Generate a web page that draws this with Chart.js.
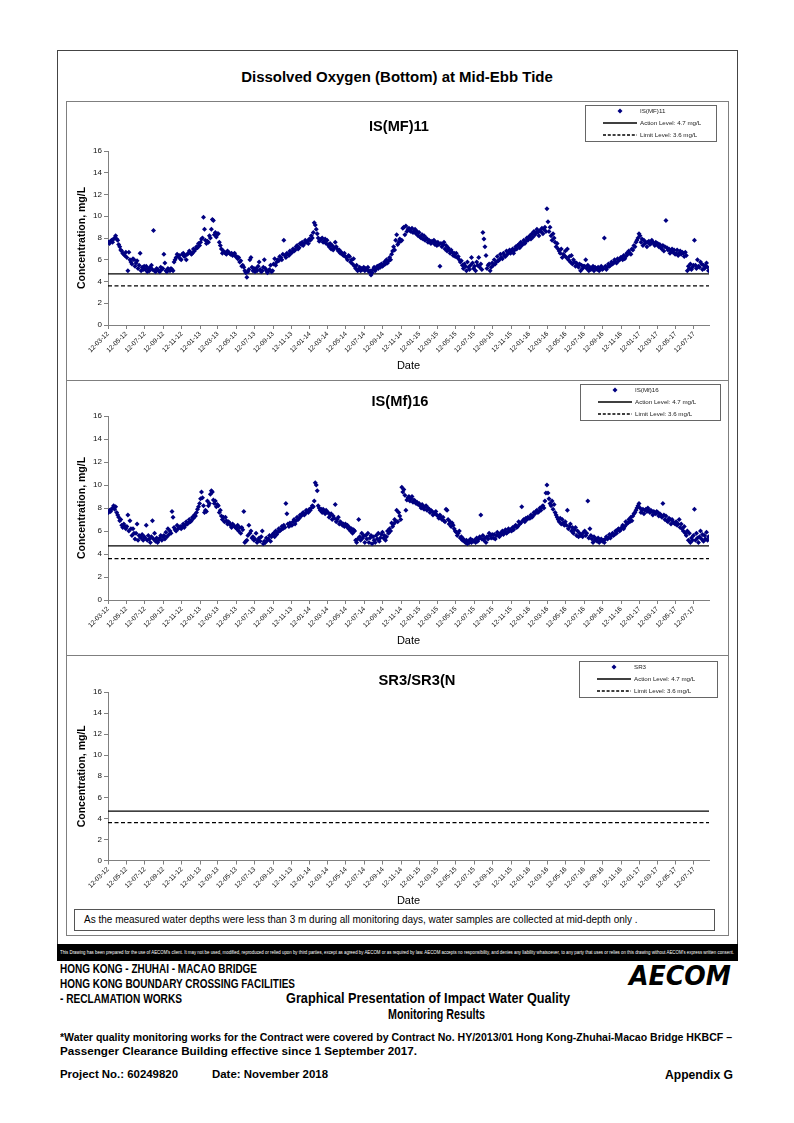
<!DOCTYPE html>
<html><head><meta charset="utf-8">
<script src="https://cdn.jsdelivr.net/npm/chart.js@4.4.0/dist/chart.umd.min.js"></script>
<style>
body{margin:0;background:#fff;}
#page{position:relative;width:794px;height:1123px;overflow:hidden;font-family:"Liberation Sans",Arial,sans-serif;color:#000;}
.abs{position:absolute;white-space:nowrap;line-height:1;}
.box{position:absolute;border:1px solid #7f7f7f;box-sizing:border-box;}
canvas{position:absolute;}
.legend{position:absolute;border:1px solid #666;background:#fff;box-sizing:border-box;}
.legend span{position:absolute;font-size:6.2px;line-height:1;color:#222;white-space:nowrap;}
.legend svg{position:absolute;}
</style>
</head><body>
<div id="page">
  <div class="box" style="left:57px;top:50px;width:681px;height:895px;border-color:#444;"></div>
  <div class="box" style="left:66px;top:101px;width:663px;height:280px;"></div>
  <div class="box" style="left:66px;top:380px;width:663px;height:276px;"></div>
  <div class="box" style="left:66px;top:655px;width:663px;height:281px;"></div>
  <div class="box" style="left:74px;top:909px;width:641px;height:22px;border-color:#555;"></div>
  <canvas id="c1" width="660" height="277" style="left:67px;top:102px;"></canvas>
  <canvas id="c2" width="660" height="273" style="left:67px;top:381px;"></canvas>
  <canvas id="c3" width="660" height="252" style="left:67px;top:656px;"></canvas>
  <div style="position:absolute;left:57px;top:944px;width:681px;height:17px;background:#000;"></div>
</div>
<script>
// ---------------- data ----------------
const tickLabels = ['12-03-12','12-05-12','12-07-12','12-09-12','12-11-12','12-01-13','12-03-13','12-05-13','12-07-13','12-09-13','12-11-13','12-01-14','12-03-14','12-05-14','12-07-14','12-09-14','12-11-14','12-01-15','12-03-15','12-05-15','12-07-15','12-09-15','12-11-15','12-01-16','12-03-16','12-05-16','12-07-16','12-09-16','12-11-16','12-01-17','12-03-17','12-05-17','12-07-17'];
const axisEndLabel = '31-08-17';
const yTicks = [0,2,4,6,8,10,12,14,16];
const actionLevel = 4.7;
const limitLevel = 3.6;

// readings grouped by two-month period (period k starts at tickLabels[k])
const isMF11 = [
 [7.6,7.5,7.7,7.8,7.6,7.9,8.0,8.2,7.9,7.8,7.4,7.2,6.9,6.8,6.6,6.5,6.4,6.7],
 [6.2,5.0,6.7,6.0,5.8,5.6,6.1,6.0,5.4,5.7,5.9,5.2,5.5,6.6,5.0,5.3,5.1,5.4],
 [5.1,5.4,4.9,5.2,5.0,5.3,5.5,5.1,8.7,5.0,4.9,5.2,5.1,5.0,4.9,5.3,5.1,5.2],
 [6.5,5.7,5.0,4.9,5.2,5.1,5.0,5.2,5.1,5.0,5.8,6.0,6.2,6.5,6.3,6.4,6.1,6.0],
 [6.5,6.6,6.3,6.4,6.0,6.5,6.6,6.8,6.7,6.5,6.6,7.0,6.8,7.0,7.2,7.1,7.5,7.3],
 [7.6,7.9,8.0,9.9,8.8,7.8,7.5,7.7,7.6,8.2,8.0,8.8,9.7,9.6,8.3,8.5,8.1,8.4],
 [8.4,7.6,7.3,7.0,6.6,6.8,6.7,6.6,6.5,6.8,6.7,6.6,6.5,6.6,6.4,6.5,6.6,6.3],
 [6.3,6.1,6.2,5.8,5.9,5.4,5.5,5.3,5.0,4.8,4.4,4.9,5.1,6.0,6.2,5.3,5.0,5.2],
 [4.9,5.2,5.0,5.4,5.8,5.1,4.9,5.0,5.3,6.0,5.2,5.0,4.8,5.0,5.1,5.5,4.9,5.0],
 [5.6,6.1,5.5,5.8,6.0,5.9,6.3,6.2,6.0,6.5,7.8,6.4,6.2,6.6,6.5,6.4,6.8,6.6],
 [6.7,7.0,6.8,6.9,7.2,7.3,7.0,7.1,7.5,7.4,7.6,7.3,7.5,7.8,7.6,7.7,7.5,7.9],
 [7.8,8.2,8.0,8.5,9.4,9.2,8.8,8.4,8.0,7.7,7.8,7.9,8.0,7.6,7.7,7.9,7.5,7.8],
 [7.4,7.2,7.5,7.0,7.3,6.9,7.1,7.6,7.2,7.0,6.8,6.9,6.6,6.7,6.5,6.4,6.6,6.3],
 [6.2,6.0,6.4,6.3,5.8,6.0,5.6,6.1,5.4,5.2,5.5,5.0,5.1,5.3,5.0,5.2,5.1,5.3],
 [5.0,5.2,5.1,5.3,4.9,5.0,4.6,4.8,5.1,5.3,5.0,5.2,5.4,5.2,5.5,5.3,5.6,5.4],
 [5.5,5.8,5.6,6.0,5.7,5.9,6.2,6.0,6.5,6.8,7.2,6.9,7.8,8.3,7.4,7.6,7.9,7.7],
 [7.8,8.9,9.0,8.3,9.1,8.6,8.8,8.9,8.7,8.6,8.9,8.5,8.6,8.8,8.4,8.6,8.2,8.5],
 [8.1,8.0,8.3,7.9,8.2,7.8,8.0,7.9,7.6,7.8,7.7,7.5,7.7,7.6,7.8,7.4,7.6,7.3],
 [7.6,7.4,5.4,7.5,7.2,7.4,7.6,7.0,7.3,6.8,7.1,6.9,6.6,6.9,6.7,6.4,6.6,6.3],
 [6.6,6.2,6.3,6.0,5.8,5.9,5.5,5.2,5.6,5.4,5.0,5.8,5.3,5.1,5.5,6.2,5.7,5.2],
 [5.4,5.0,5.8,5.5,6.2,5.3,5.6,5.1,8.5,7.9,7.2,6.4,5.2,5.5,5.6,5.0,5.3,5.7],
 [5.5,6.0,5.6,5.8,6.3,5.9,6.0,6.5,6.2,6.1,6.6,6.4,6.3,6.8,6.5,6.7,6.9,6.6],
 [6.8,7.0,6.6,6.9,7.2,7.0,7.3,7.4,7.1,7.6,7.3,7.5,7.8,7.5,7.7,8.0,7.8,8.1],
 [8.2,7.9,8.4,8.1,8.6,8.3,8.5,8.8,8.5,8.2,8.7,8.6,8.9,8.4,8.8,9.0,8.6,10.7],
 [9.5,8.6,9.0,8.2,7.8,8.4,8.0,7.6,7.2,7.5,7.0,6.8,6.6,7.0,6.2,6.5,6.4,6.8],
 [6.2,7.0,6.0,6.3,5.8,6.4,5.6,6.0,5.8,5.4,5.7,5.5,5.3,5.6,5.0,5.5,5.2,5.4],
 [5.4,6.0,5.2,5.5,5.0,5.3,5.1,5.2,5.4,5.0,5.3,5.2,5.1,5.3,5.0,5.2,5.4,5.1],
 [5.2,8.0,5.4,5.1,5.3,5.6,5.4,5.5,5.8,5.6,5.7,6.0,5.8,5.7,6.1,5.9,6.0,6.2],
 [6.2,6.0,6.4,6.1,6.3,6.6,6.5,6.8,6.6,6.5,7.0,6.9,7.3,7.2,7.6,7.8,8.0,8.4],
 [8.2,7.6,7.9,7.3,7.8,7.5,7.6,7.2,7.6,7.7,7.4,7.5,7.8,7.6,7.5,7.3,7.6,7.4],
 [7.5,7.2,7.4,7.1,7.0,7.3,6.8,7.2,9.6,7.1,6.9,7.0,6.6,6.8,7.0,6.7,6.9,6.5],
 [6.6,6.9,6.4,6.6,6.8,6.5,6.7,6.6,6.3,6.7,6.4,5.0,5.4,5.2,5.6,5.1,5.3,5.5],
 [7.8,5.5,5.2,6.0,5.4,5.3,5.8,5.6,5.1,5.5,5.2,5.4,5.7,5.3,5.0]
];
const isMf16 = [
 [7.6,7.8,7.7,7.9,8.0,8.2,7.9,8.1,7.6,7.4,7.2,6.9,7.0,6.5,6.3,6.6,6.4,6.2],
 [6.4,7.4,6.0,6.9,6.2,5.6,6.2,5.8,5.3,5.8,6.6,5.2,5.6,5.5,5.4,5.7,5.2,5.5],
 [5.4,6.5,5.2,5.6,5.3,5.0,5.5,6.9,5.3,5.8,5.1,5.4,5.0,5.2,5.4,5.6,5.2,5.5],
 [5.6,5.3,5.9,5.5,6.2,5.7,6.0,5.8,7.7,7.2,6.3,6.1,6.0,6.5,6.2,6.3,6.4,6.2],
 [6.4,6.6,6.3,6.5,6.8,6.6,6.7,7.0,6.8,6.9,7.2,7.1,7.4,7.3,7.6,7.9,8.1,8.4],
 [8.8,9.4,8.9,8.2,7.6,7.8,7.7,8.6,8.2,8.4,9.2,9.5,9.4,8.7,8.4,8.6,8.1,8.3],
 [8.2,7.6,7.8,7.3,7.0,7.2,6.8,7.2,6.9,6.6,6.8,6.7,6.5,6.3,6.6,6.5,6.4,6.3],
 [6.2,6.5,6.0,6.3,5.8,6.3,6.1,7.7,5.0,5.1,5.2,5.6,6.5,5.8,6.0,5.4,5.5,5.2],
 [5.3,5.8,5.0,5.2,5.4,5.1,5.5,6.0,4.9,5.1,5.0,5.4,5.2,5.3,5.6,5.1,5.5,5.7],
 [5.8,5.5,6.0,5.7,5.9,6.2,6.0,6.1,6.4,6.2,6.5,6.3,8.4,7.5,6.6,6.4,6.7,6.5],
 [6.5,6.8,7.0,6.6,6.9,7.2,7.0,7.1,7.4,7.3,7.5,7.6,7.4,7.5,7.8,7.7,7.6,7.9],
 [7.8,8.0,8.2,8.1,8.6,10.2,10.0,9.5,8.2,8.0,7.8,7.9,7.6,7.9,7.7,7.5,7.8,7.6],
 [7.6,7.2,7.4,7.5,7.0,7.3,7.1,8.3,6.8,7.0,7.2,6.6,6.8,6.7,6.5,6.6,6.4,6.6],
 [6.4,6.5,6.2,6.3,6.0,6.2,5.8,6.1,6.0,5.2,5.0,5.3,7.0,5.5,5.2,5.8,5.4,5.6],
 [5.0,5.6,5.3,5.8,5.0,5.4,5.6,4.9,5.5,5.2,5.0,5.6,5.3,5.8,5.1,5.4,5.7,5.9],
 [5.4,5.6,5.2,5.5,6.0,5.8,6.2,6.0,6.7,6.4,6.6,7.0,6.8,7.8,6.8,7.6,7.3,7.0],
 [9.8,9.4,9.6,9.1,7.8,8.7,8.9,9.0,8.6,8.8,9.0,8.5,8.7,8.6,8.4,8.5,8.3,8.4],
 [8.2,8.0,8.3,8.1,7.9,8.1,8.2,7.8,8.0,7.9,7.6,7.8,7.7,7.4,7.6,7.5,7.7,7.4],
 [7.3,7.1,7.4,7.2,7.0,7.2,6.9,6.8,7.9,7.8,7.0,6.6,6.8,6.4,6.7,6.5,6.2,6.0],
 [5.9,5.6,5.8,6.0,5.4,5.5,5.2,5.3,5.1,5.0,5.2,4.9,5.1,5.0,5.3,5.0,5.2,5.1],
 [5.2,5.0,5.4,5.1,5.3,5.5,7.4,5.3,5.6,5.2,5.4,5.0,5.5,5.3,5.8,5.6,5.4,5.7],
 [5.4,5.7,5.3,5.6,5.9,5.6,5.5,5.8,5.7,6.0,5.7,5.9,6.1,5.8,5.9,6.2,6.0,6.1],
 [6.0,6.3,6.1,6.4,6.5,6.3,6.4,6.8,6.6,6.7,8.1,6.9,7.0,6.8,7.1,7.0,7.2,7.1],
 [7.1,7.4,7.2,7.3,7.6,7.5,7.7,7.8,7.6,7.7,8.0,7.8,8.1,8.2,8.0,8.6,9.3,10.0],
 [9.3,8.8,8.4,8.2,8.6,7.9,8.3,7.6,7.4,7.2,7.0,6.8,7.1,6.6,7.0,6.7,6.5,6.8],
 [6.5,7.8,6.2,6.4,6.6,6.0,6.3,5.8,6.1,6.3,5.6,6.0,5.5,5.8,5.6,5.7,5.5,5.9],
 [6.0,5.6,5.8,8.6,5.4,6.2,5.6,5.3,5.0,5.5,5.2,5.3,5.1,5.4,5.0,5.2,5.3,5.1],
 [5.2,5.0,5.3,5.5,5.3,5.4,5.7,5.4,5.6,5.8,5.6,5.7,6.0,5.8,6.1,6.2,6.0,6.1],
 [6.3,6.5,6.2,6.4,6.8,6.6,6.7,7.0,6.8,7.2,6.9,7.3,7.5,7.6,7.8,8.0,8.2,8.4],
 [8.0,7.6,7.8,7.9,7.5,7.8,7.9,7.7,8.0,7.8,7.6,7.8,7.7,7.4,7.7,7.6,7.5,7.7],
 [7.6,7.3,7.5,7.4,7.2,8.4,7.4,7.0,7.3,6.9,6.8,7.1,7.0,6.6,7.0,6.8,6.7,6.6],
 [6.8,6.5,6.6,7.0,6.3,6.6,6.2,6.0,6.4,5.8,5.6,6.0,5.2,5.8,5.0,5.4,5.2,5.6],
 [7.9,5.2,5.8,5.4,5.0,5.5,6.0,5.3,5.7,5.1,5.6,5.3,5.9,5.2,5.5]
];
const sr3 = [];

// ---------------- helpers ----------------
const FONT = '"Liberation Sans", Arial, sans-serif';
const T0 = Date.UTC(2012, 2, 12);
function dayOf(s){ const p = s.split('-').map(Number); return (Date.UTC(2000 + p[2], p[1] - 1, p[0]) - T0) / 864e5; }
const tickDays = tickLabels.map(dayOf);
const endDay = dayOf(axisEndLabel);

function seriesPoints(periods){
  const pts = [];
  periods.forEach((vals, k) => {
    const a = tickDays[k], b = (k + 1 < tickDays.length) ? tickDays[k + 1] : endDay;
    vals.forEach((v, j) => pts.push({x: a + (j + 0.5) * (b - a) / vals.length, y: v}));
  });
  return pts;
}

function fitArea(chart, t){
  for (let i = 0; i < 5; i++){
    const a = chart.chartArea, p = chart.options.layout.padding;
    p.left = Math.max(0, p.left + (t.left - a.left));
    p.top = Math.max(0, p.top + (t.top - a.top));
    p.right = Math.max(0, p.right + (a.right - t.right));
    p.bottom = Math.max(0, p.bottom + (a.bottom - t.bottom));
    chart.update('none');
  }
}

const axisGrid = {drawOnChartArea:false, drawTicks:true, tickLength:4, color:'#808080', tickColor:'#808080'};
const axisBorder = {color:'#808080', width:1};

function makeChart(id, label, periods, target){
  const chart = new Chart(document.getElementById(id), {
    type: 'scatter',
    data: {datasets: [
      {label: label, data: seriesPoints(periods), pointStyle:'rectRot', pointRadius:2.5, pointHoverRadius:2.5,
       backgroundColor:'#000080', borderColor:'#000080', borderWidth:0, order:0},
      {type:'line', label:'Action Level: 4.7 mg/L', data:[{x:0,y:actionLevel},{x:endDay,y:actionLevel}],
       borderColor:'#000', borderWidth:1.3, pointRadius:0, order:1},
      {type:'line', label:'Limit Level: 3.6 mg/L', data:[{x:0,y:limitLevel},{x:endDay,y:limitLevel}],
       borderColor:'#000', borderWidth:1.3, borderDash:[4,2.5], pointRadius:0, order:2}
    ]},
    options: {
      responsive:false, animation:false, events:[],
      layout:{padding:{left:4, top:30, right:18, bottom:0}},
      plugins:{legend:{display:false}, tooltip:{enabled:false}, title:{display:false}},
      scales:{
        x:{type:'linear', min:0, max:endDay,
           afterBuildTicks: s => { s.ticks = tickDays.map(v => ({value:v})); },
           ticks:{autoSkip:false, minRotation:45, maxRotation:45, padding:1,
                  font:{size:6.6, family:FONT}, color:'#111', callback:(v, i) => tickLabels[i]},
           grid:axisGrid, border:axisBorder,
           title:{display:true, text:'Date', font:{size:11, family:FONT}, color:'#000', padding:{top:4, bottom:0}}},
        y:{type:'linear', min:0, max:16,
           afterBuildTicks: s => { s.ticks = yTicks.map(v => ({value:v})); },
           ticks:{font:{size:8, family:FONT}, color:'#111', padding:2},
           grid:axisGrid, border:axisBorder,
           title:{display:true, text:'Concentration, mg/L', font:{size:10.5, weight:'bold', family:FONT}, color:'#000', padding:{top:0, bottom:3}}}
      }
    }
  });
  fitArea(chart, target);
  return chart;
}

makeChart('c1', 'IS(MF)11', isMF11, {left:41, top:49, right:642, bottom:223});
makeChart('c2', 'IS(Mf)16', isMf16, {left:41, top:35, right:642, bottom:219});
makeChart('c3', 'SR3', sr3, {left:41, top:36, right:642, bottom:205});

// ---------------- text ----------------
const page = document.getElementById('page');
function place(text, o){
  const el = document.createElement('div');
  el.className = 'abs';
  el.textContent = text;
  el.style.fontSize = o.size + 'px';
  el.style.fontWeight = o.weight || 'normal';
  if (o.family) el.style.fontFamily = o.family;
  if (o.style) el.style.fontStyle = o.style;
  el.style.color = o.color || '#000';
  page.appendChild(el);
  let w = el.getBoundingClientRect().width;
  if (o.w && o.condense){
    el.style.transformOrigin = 'left top';
    el.style.transform = 'scaleX(' + (o.w / w) + ')';
    w = o.w;
  } else if (o.w){
    el.style.fontSize = (o.size * o.w / w) + 'px';
    w = el.getBoundingClientRect().width;
  }
  const fs = parseFloat(el.style.fontSize);
  let left = o.x;
  if (o.align === 'center') left = o.x - w / 2;
  if (o.align === 'right') left = o.x - w;
  el.style.left = left + 'px';
  el.style.top = (o.y - 0.5 * fs) + 'px';
  return el;
}

place('Dissolved Oxygen (Bottom) at Mid-Ebb Tide', {x:397, y:76, size:14, weight:'bold', align:'center', w:312});
place('IS(MF)11', {x:399, y:126, size:14, weight:'bold', align:'center', w:60});
place('IS(Mf)16', {x:400, y:401, size:14, weight:'bold', align:'center', w:57});
place('SR3/SR3(N', {x:417, y:680, size:14, weight:'bold', align:'center', w:77});
place('As the measured water depths were less than 3 m during all monitoring days, water samples are collected  at mid-depth only .', {x:84, y:920, size:9.5, w:554});

place("This Drawing has been prepared for the use of AECOM's client. It may not be used, modified, reproduced or relied upon by third parties, except as agreed by AECOM or as required by law. AECOM accepts no responsibility, and denies any liability whatsoever, to any party that uses or relies on this drawing without AECOM's express written consent.", {x:60, y:952.5, size:5.2, color:'#fff', w:674, condense:true});

place('HONG KONG - ZHUHAI - MACAO BRIDGE', {x:60, y:969, size:12.2, weight:'bold', w:197, condense:true});
place('HONG KONG BOUNDARY CROSSING FACILITIES', {x:60, y:984, size:12.2, weight:'bold', w:235, condense:true});
place('- RECLAMATION WORKS', {x:60, y:999, size:12.2, weight:'bold', w:122, condense:true});
place('Graphical Presentation of Impact Water Quality', {x:428, y:998, size:14.5, weight:'bold', align:'center', w:284, condense:true});
place('Monitoring Results', {x:436, y:1014, size:14.5, weight:'bold', align:'center', w:97, condense:true});
place('AECOM', {x:731, y:975, size:27, weight:'bold', style:'italic', family:'"DejaVu Sans", sans-serif', align:'right', w:102, condense:true});
place('*Water quality monitoring works for the Contract were covered by Contract No. HY/2013/01 Hong Kong-Zhuhai-Macao Bridge HKBCF \u2013', {x:60, y:1038, size:11.2, weight:'bold', w:672, condense:true});
place('Passenger Clearance Building effective since 1 September 2017.', {x:60, y:1052, size:11.2, weight:'bold', w:357, condense:true});
place('Project No.: 60249820', {x:60, y:1075, size:11.8, weight:'bold', w:118, condense:true});
place('Date: November 2018', {x:212, y:1075, size:11.8, weight:'bold', w:116, condense:true});
place('Appendix G', {x:733, y:1075, size:12.8, weight:'bold', align:'right', w:68, condense:true});

// ---------------- legends ----------------
function legend(L, T, W, H, label){
  const d = document.createElement('div');
  d.className = 'legend';
  d.style.left = L + 'px'; d.style.top = T + 'px'; d.style.width = W + 'px'; d.style.height = H + 'px';
  const rows = [label, 'Action Level: 4.7 mg/L', 'Limit Level: 3.6 mg/L'];
  rows.forEach((txt, i) => {
    const cy = 6 + i * 12;
    const svg = document.createElementNS('http://www.w3.org/2000/svg', 'svg');
    svg.setAttribute('width', '34'); svg.setAttribute('height', '8');
    svg.style.left = '17px'; svg.style.top = (cy - 4 - 1) + 'px';
    if (i === 0){
      svg.innerHTML = '<polygon points="17,1.5 19.5,4 17,6.5 14.5,4" fill="#000080"/>';
    } else if (i === 1){
      svg.innerHTML = '<line x1="0" y1="4" x2="34" y2="4" stroke="#000" stroke-width="1.3"/>';
    } else {
      svg.innerHTML = '<line x1="0" y1="4" x2="34" y2="4" stroke="#000" stroke-width="1.3" stroke-dasharray="3,1.8"/>';
    }
    d.appendChild(svg);
    const s = document.createElement('span');
    s.textContent = txt;
    s.style.left = '54px'; s.style.top = (cy - 3.1 - 1) + 'px';
    d.appendChild(s);
  });
  page.appendChild(d);
}
legend(585, 105, 132, 37, 'IS(MF)11');
legend(580, 384, 141, 37, 'IS(Mf)16');
legend(579, 661, 139, 37, 'SR3');
</script>
</body></html>
